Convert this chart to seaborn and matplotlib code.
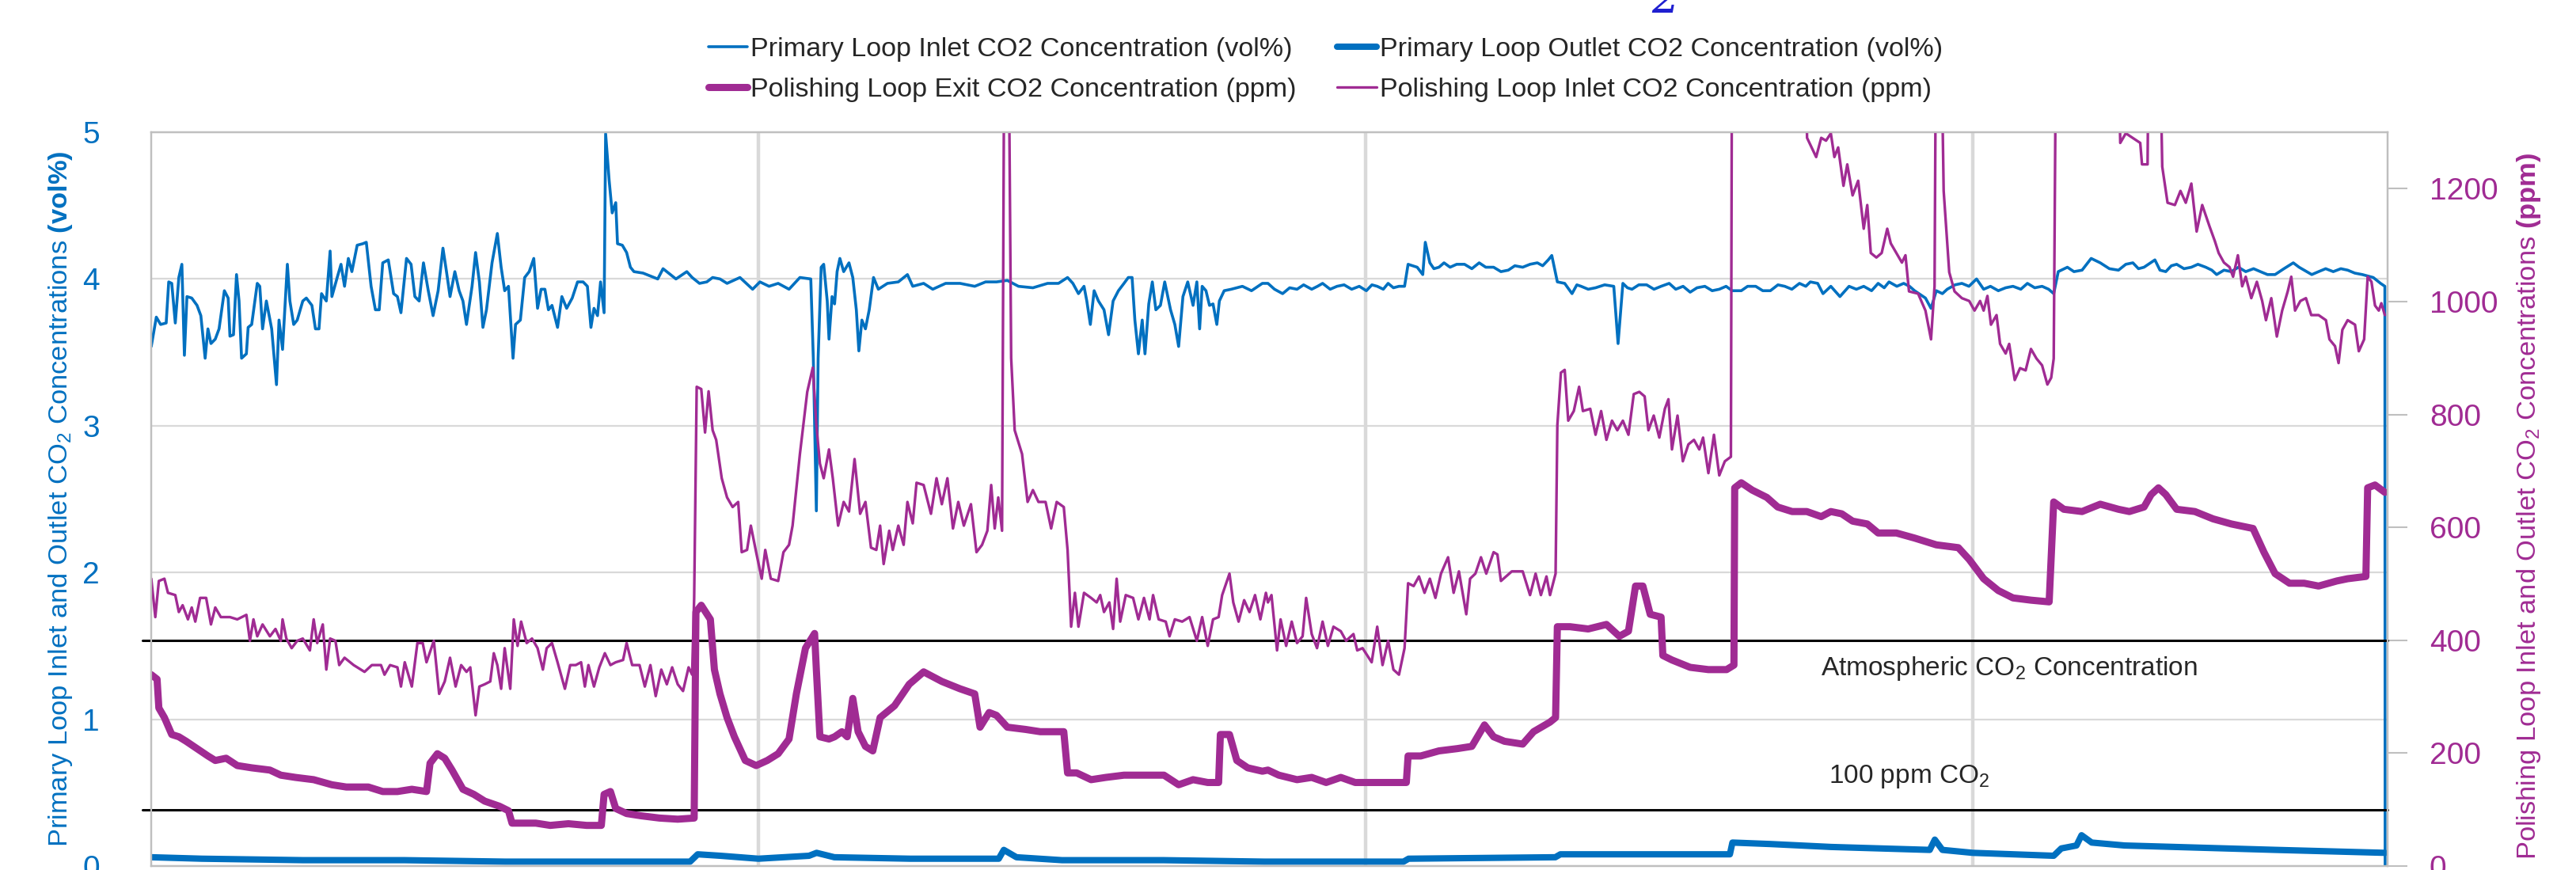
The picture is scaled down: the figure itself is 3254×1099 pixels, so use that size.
import matplotlib
matplotlib.use("Agg")
import matplotlib.pyplot as plt
import seaborn as sns

# ---- data (x = elapsed hours) ----
inlet_hours = [
    0.00, 0.20, 0.37, 0.59, 0.69, 0.81, 0.95, 1.09, 1.21, 1.31,
    1.41, 1.60, 1.81, 1.96, 2.13, 2.24, 2.36, 2.53, 2.68, 2.89,
    3.04, 3.11, 3.25, 3.37, 3.47, 3.57, 3.76, 3.83, 3.97, 4.19,
    4.29, 4.40, 4.55, 4.66, 4.76, 4.95, 5.05, 5.19, 5.38, 5.48,
    5.63, 5.77, 5.99, 6.13, 6.35, 6.49, 6.63, 6.73, 6.92, 7.07,
    7.14, 7.35, 7.50, 7.64, 7.79, 7.93, 8.14, 8.36, 8.50, 8.69,
    8.86, 9.01, 9.15, 9.37, 9.58, 9.73, 9.87, 10.09, 10.27, 10.42,
    10.59, 10.76, 10.95, 11.14, 11.34, 11.53, 11.67, 11.81, 12.00, 12.17,
    12.32, 12.46, 12.68, 12.82, 12.97, 13.11, 13.25, 13.47, 13.68, 13.83,
    13.97, 14.12, 14.30, 14.40, 14.59, 14.76, 14.94, 15.12, 15.27, 15.41,
    15.56, 15.70, 15.84, 16.06, 16.23, 16.42, 16.64, 16.85, 17.07, 17.24,
    17.38, 17.50, 17.64, 17.76, 17.90, 17.96, 18.10, 18.22, 18.36, 18.43,
    18.62, 18.79, 18.94, 19.08, 19.44, 19.73, 20.02, 20.23, 20.52, 20.74,
    21.17, 21.38, 21.67, 21.96,
    22.19, 22.48, 22.76, 23.27, 23.77, 24.06, 24.42, 24.78, 25.21,
    25.64, 26.07, 26.17, 26.29, 26.36, 26.48, 26.58, 26.72, 26.79, 26.91,
    27.01, 27.11, 27.22, 27.37, 27.58, 27.73, 27.87, 27.97, 28.09, 28.23,
    28.38, 28.55, 28.74, 29.10, 29.53, 29.89, 30.10, 30.53, 30.89, 31.40,
    31.97, 32.55, 32.98, 33.41, 33.84, 34.28, 34.85, 35.43, 35.86, 36.22,
    36.43, 36.65, 36.87, 36.98, 37.12, 37.27, 37.44, 37.66, 37.84, 38.02,
    38.23, 38.45, 38.62, 38.77, 38.88, 39.02, 39.17, 39.28, 39.43, 39.57,
    39.71, 39.89, 40.06, 40.29, 40.46, 40.61, 40.78, 40.97, 41.18, 41.33,
    41.44, 41.54, 41.69, 41.83, 41.97, 42.12, 42.22, 42.41, 42.69, 43.13,
    43.49, 43.92,
    44.14, 44.40, 44.72, 45.00, 45.29, 45.55, 45.87, 46.10, 46.30, 46.60,
    46.87, 47.15, 47.45, 47.75, 48.03, 48.25, 48.46, 48.70, 48.89, 49.10,
    49.32, 49.54, 49.68, 50.04, 50.26, 50.36, 50.54, 50.70, 50.90, 51.10,
    51.34, 51.60, 51.91, 52.20, 52.49, 52.75, 53.06, 53.35, 53.64, 53.90,
    54.21, 54.50, 54.79, 55.00, 55.22, 55.36, 55.58, 55.87, 56.16, 56.35,
    56.52, 56.80, 57.09, 57.45, 57.81, 57.98, 58.17, 58.35, 58.53, 58.80,
    59.11, 59.40, 59.68, 60.00, 60.26, 60.55, 60.83, 61.10, 61.41, 61.70,
    61.98, 62.25, 62.49, 62.85, 63.10, 63.42, 63.70, 64.00, 64.30, 64.57,
    64.85, 65.15, 65.40, 65.58, 65.87, 66.08,
    66.39, 66.75, 67.11, 67.40, 67.69, 68.00, 68.26, 68.50, 68.69, 69.00,
    69.27, 69.50, 69.70, 70.13, 70.35, 70.56, 70.80, 70.99, 71.30, 71.57,
    71.85, 72.15, 72.43, 72.70, 73.01, 73.30, 73.59, 73.90, 74.16, 74.45,
    74.74, 75.00, 75.20, 75.38, 75.74, 76.00, 76.32, 76.68, 77.04, 77.40,
    77.76, 78.05, 78.33, 78.55, 78.77, 79.20, 79.40, 79.63, 79.85, 80.06,
    80.35, 80.64, 80.90, 81.21, 81.45, 81.64, 81.93, 82.22, 82.50, 82.79,
    83.10, 83.37, 83.65, 83.95, 84.30, 84.67, 84.90, 85.10, 85.40, 85.67,
    85.95, 86.25, 86.55, 86.82, 87.10, 87.40, 87.83, 88.12, 88.29, 88.30,
]
inlet_vol = [
    3.54, 3.74, 3.69, 3.70, 3.98, 3.97, 3.70, 4.01, 4.10, 3.48,
    3.88, 3.87, 3.82, 3.75, 3.46, 3.66, 3.56, 3.59, 3.66, 3.92,
    3.87, 3.61, 3.62, 4.03, 3.85, 3.46, 3.49, 3.67, 3.69, 3.97,
    3.95, 3.66, 3.85, 3.75, 3.66, 3.28, 3.72, 3.52, 4.10, 3.85,
    3.69, 3.72, 3.85, 3.87, 3.82, 3.66, 3.66, 3.90, 3.85, 4.19,
    3.88, 4.01, 4.10, 3.95, 4.14, 4.05, 4.23, 4.24, 4.25, 3.95,
    3.79, 3.79, 4.11, 4.13, 3.90, 3.88, 3.77, 4.14, 4.10, 3.88,
    3.85, 4.11, 3.92, 3.75, 3.92, 4.21, 4.05, 3.88, 4.05, 3.92,
    3.85, 3.69, 3.95, 4.18, 3.98, 3.67, 3.79, 4.11, 4.31, 4.08,
    3.92, 3.95, 3.46, 3.69, 3.72, 4.01, 4.05, 4.14, 3.80, 3.93,
    3.93, 3.79, 3.82, 3.67, 3.88, 3.80, 3.87, 3.98, 3.98, 3.95,
    3.67, 3.80, 3.75, 3.98, 3.77, 4.99, 4.67, 4.45, 4.52, 4.24,
    4.23, 4.18, 4.08, 4.05, 4.04, 4.02, 4.00, 4.07, 4.03, 4.00,
    4.05, 4.01, 3.97, 3.98,
    4.01, 4.00, 3.97, 4.01, 3.93, 3.98, 3.95, 3.97, 3.93,
    4.01, 4.00, 3.46, 2.42, 3.46, 4.08, 4.10, 3.85, 3.59, 3.88,
    3.83, 4.05, 4.14, 4.05, 4.11, 4.01, 3.79, 3.51, 3.72, 3.66,
    3.79, 4.01, 3.93, 3.97, 3.98, 4.03, 3.95, 3.97, 3.93, 3.97,
    3.97, 3.95, 3.98, 3.98, 3.99, 3.95, 3.94, 3.97, 3.97, 4.01,
    3.97, 3.90, 3.95, 3.85, 3.69, 3.92, 3.85, 3.79, 3.62, 3.85,
    3.92, 3.97, 4.01, 4.01, 3.72, 3.49, 3.72, 3.49, 3.83, 3.98,
    3.79, 3.82, 3.98, 3.79, 3.69, 3.54, 3.88, 3.98, 3.82, 3.98,
    3.66, 3.95, 3.92, 3.82, 3.83, 3.69, 3.85, 3.92, 3.93, 3.95,
    3.92, 3.97,
    3.97, 3.93, 3.90, 3.94, 3.93, 3.96, 3.93, 3.95, 3.97, 3.93,
    3.95, 3.96, 3.93, 3.95, 3.92, 3.96, 3.95, 3.93, 3.97, 3.94,
    3.95, 3.95, 4.10, 4.08, 4.03, 4.25, 4.11, 4.07, 4.08, 4.11,
    4.08, 4.10, 4.10, 4.07, 4.11, 4.08, 4.08, 4.05, 4.06, 4.09,
    4.08, 4.10, 4.11, 4.09, 4.13, 4.16, 3.98, 3.97, 3.90, 3.96,
    3.95, 3.93, 3.94, 3.96, 3.95, 3.56, 3.97, 3.94, 3.93, 3.96,
    3.96, 3.93, 3.95, 3.97, 3.93, 3.95, 3.91, 3.94, 3.95, 3.92,
    3.93, 3.95, 3.92, 3.92, 3.95, 3.95, 3.92, 3.92, 3.96, 3.95,
    3.93, 3.97, 3.95, 3.98, 3.97, 3.90,
    3.95, 3.88, 3.95, 3.93, 3.95, 3.92, 3.97, 3.94, 3.98, 3.95,
    3.97, 3.95, 3.92, 3.87, 3.80, 3.92, 3.90, 3.93, 3.96, 3.97,
    3.95, 4.00, 3.93, 3.95, 3.92, 3.94, 3.95, 3.93, 3.97, 3.94,
    3.95, 3.93, 3.90, 4.05, 4.08, 4.05, 4.06, 4.14, 4.11, 4.07,
    4.06, 4.10, 4.11, 4.07, 4.08, 4.13, 4.06, 4.05, 4.09, 4.10,
    4.07, 4.08, 4.10, 4.08, 4.06, 4.03, 4.06, 4.05, 4.08, 4.05,
    4.07, 4.05, 4.03, 4.03, 4.07, 4.11, 4.08, 4.06, 4.03, 4.05,
    4.07, 4.05, 4.07, 4.06, 4.04, 4.03, 4.01, 3.97, 3.95, 0.00,
]

outlet_hours = [
    0.0, 2.0, 6.0, 10.0, 14.0, 18.0, 21.3, 21.6, 22.5, 24.0,
    26.0, 26.3, 27.0, 30.0, 33.5, 33.7, 34.2, 36.0, 40.0, 44.0,
    49.5, 49.7, 55.5, 55.7, 62.4, 62.5, 64.0, 66.4, 70.3, 70.5,
    70.8, 72.0, 75.2, 75.5, 76.1, 76.3, 76.7, 78.0, 80.0, 84.0,
    88.3,
]
outlet_vol = [
    0.06, 0.05, 0.04, 0.04, 0.03, 0.03, 0.03, 0.08, 0.07, 0.05,
    0.07, 0.09, 0.06, 0.05, 0.05, 0.11, 0.06, 0.04, 0.04, 0.03,
    0.03, 0.05, 0.06, 0.08, 0.08, 0.16, 0.15, 0.13, 0.11, 0.18,
    0.11, 0.09, 0.07, 0.12, 0.14, 0.21, 0.16, 0.14, 0.13, 0.11,
    0.09,
]

exit_hours = [
    0.00, 0.23, 0.30, 0.52, 0.81, 1.09, 1.38, 1.81, 2.24, 2.53,
    2.96, 3.40, 3.97, 4.69, 5.12, 5.70, 6.42, 7.14, 7.71, 8.58,
    9.15, 9.73, 10.30, 10.88, 11.02, 11.31, 11.60, 11.89, 12.32, 12.75,
    13.18, 13.76, 14.12, 14.26, 14.62, 15.20, 15.77, 16.49, 17.21, 17.79,
    17.90, 18.15, 18.36, 18.79, 19.37, 20.09, 20.81, 21.46, 21.53, 21.74,
    22.10,
    22.26, 22.48, 22.76, 23.05, 23.48, 23.91, 24.35, 24.78, 25.21, 25.50,
    25.86, 26.22, 26.29, 26.43, 26.79, 27.01, 27.30, 27.51, 27.73, 27.94,
    28.23, 28.52, 28.81, 29.38, 29.96, 30.53, 31.25, 31.97, 32.55, 32.76,
    33.12, 33.41, 33.84, 34.56, 35.14, 36.07, 36.22, 36.58, 37.15, 37.73,
    38.45, 39.02, 39.60, 40.03, 40.61, 41.18, 41.76, 42.19, 42.26, 42.62,
    42.91, 43.34, 43.92,
    44.14, 44.57, 45.29, 45.87, 46.44, 47.02, 47.59, 48.31, 49.03, 49.61,
    49.68, 50.18, 50.90, 51.62, 52.20, 52.70, 53.06, 53.49, 54.21, 54.64,
    55.29, 55.51, 55.58, 56.08, 56.80, 57.52, 58.03, 58.39, 58.67, 58.96,
    59.25, 59.68, 59.75, 60.11, 60.83, 61.55, 62.27, 62.56, 62.59, 62.85,
    63.28, 63.86, 64.29, 64.86, 65.44, 66.01,
    66.39, 66.82, 67.25, 67.83, 68.26, 68.98, 69.70, 70.56, 71.43, 71.86,
    72.43, 73.01, 73.59, 74.30, 75.02, 75.20, 75.60, 76.32, 77.04, 77.76,
    78.19, 78.77, 79.05, 79.34, 79.63, 80.06, 80.78, 81.50, 82.22, 83.08,
    83.51, 83.95, 84.52, 85.10, 85.67, 86.39, 86.82, 87.54, 87.61, 87.90,
    88.29,
]
exit_ppm = [
    339, 331, 280, 263, 233, 229, 221, 208, 195, 187,
    191, 178, 174, 170, 161, 157, 153, 144, 140, 140,
    132, 132, 136, 132, 182, 199, 191, 170, 136, 127,
    115, 106, 98, 76, 76, 76, 72, 75, 72, 72,
    127, 132, 102, 93, 89, 85, 83, 85, 450, 462,
    437,
    348, 305, 263, 229, 187, 178, 187, 199, 225, 305,
    386, 412, 348, 229, 225, 229, 238, 229, 297, 238,
    212, 204, 263, 284, 322, 344, 327, 314, 305, 246,
    272, 267, 246, 242, 238, 238, 165, 165, 153, 157,
    161, 161, 161, 161, 144, 153, 148, 148, 233, 233,
    187, 174, 168,
    170, 161, 153, 157, 148, 157, 148, 148, 148, 148,
    195, 195, 204, 208, 212, 250, 229, 221, 216, 238,
    255, 263, 424, 424, 420, 428, 407, 416, 496, 496,
    446, 441, 373, 365, 352, 348, 348, 356, 670, 679,
    666, 653, 636, 628, 628, 619,
    628, 624, 611, 606, 590, 590, 581, 569, 564, 543,
    509, 488, 475, 471, 468, 645, 632, 628, 641, 632,
    628, 636, 658, 670, 658, 632, 628, 615, 606, 598,
    556, 518, 501, 501, 496, 505, 509, 513, 670, 675,
    662,
]

# values above the top of the axis (off-scale) are entered as 1600
pol_inlet_hours = [
    0.00, 0.16, 0.30, 0.52, 0.66, 0.95, 1.09, 1.24, 1.45, 1.60,
    1.74, 1.93, 2.17, 2.36, 2.53, 2.75, 3.11, 3.40, 3.76, 3.90,
    4.04, 4.19, 4.40, 4.69, 4.91, 5.12, 5.19, 5.34, 5.55, 5.77,
    5.99, 6.27, 6.42, 6.56, 6.78, 6.92, 7.07, 7.28, 7.43, 7.64,
    8.00, 8.43, 8.72, 9.08, 9.22, 9.44, 9.73, 9.87, 10.02, 10.30,
    10.52, 10.73, 10.88, 11.17, 11.38, 11.60, 11.81, 12.03, 12.25, 12.46,
    12.61, 12.82, 12.97, 13.18, 13.40, 13.54, 13.68, 13.83, 13.97, 14.19,
    14.33, 14.48, 14.62, 14.84, 15.05, 15.27, 15.48, 15.63, 15.84, 16.06,
    16.35, 16.56, 16.78, 16.99, 17.14, 17.28, 17.50, 17.71, 17.93, 18.15,
    18.36, 18.65, 18.79, 19.01, 19.30, 19.51, 19.73, 19.94, 20.16, 20.38,
    20.59, 20.81, 21.02, 21.24, 21.38, 21.46, 21.56, 21.74, 21.89, 22.03,
    22.19, 22.33, 22.55, 22.76, 22.98, 23.20, 23.34, 23.55, 23.70, 23.91,
    24.13, 24.27, 24.49, 24.78, 24.99, 25.21, 25.35, 25.64, 25.93, 26.15,
    26.29, 26.43, 26.58, 26.79, 26.94, 27.15, 27.37, 27.58, 27.80, 28.02,
    28.23, 28.45, 28.66, 28.81, 28.95, 29.17, 29.31, 29.53, 29.74, 29.89,
    30.10, 30.25, 30.53, 30.82, 31.04, 31.25, 31.47, 31.69, 31.90, 32.12,
    32.40, 32.62, 32.84, 33.05, 33.20, 33.34, 33.48, 33.63, 33.73, 33.87,
    33.99, 34.13, 34.42, 34.64, 34.85, 35.07, 35.35, 35.57, 35.79, 36.07,
    36.22, 36.36, 36.51, 36.65, 36.87, 37.15, 37.37, 37.51, 37.66, 37.87,
    38.02, 38.16, 38.30, 38.52, 38.81, 39.02, 39.24, 39.46, 39.60, 39.82,
    40.10, 40.25, 40.46, 40.75, 41.04, 41.33, 41.54, 41.76, 41.97, 42.19,
    42.33, 42.62, 42.77, 42.98, 43.20, 43.41, 43.63, 43.84, 44.06,
    44.14, 44.28, 44.50, 44.64, 44.86, 45.08, 45.29, 45.51, 45.65, 45.87,
    46.08, 46.30, 46.51, 46.73, 47.02, 47.23, 47.52, 47.67, 47.88, 48.24,
    48.46, 48.67, 48.89, 49.10, 49.32, 49.54, 49.68, 49.90, 50.11, 50.33,
    50.54, 50.76, 50.98, 51.26, 51.48, 51.69, 51.98, 52.13, 52.34, 52.56,
    52.77, 53.06, 53.21, 53.35, 53.78, 54.21, 54.50, 54.72, 54.93, 55.15,
    55.29, 55.51, 55.58, 55.72, 55.87, 56.01, 56.23, 56.44, 56.59, 56.88,
    57.09, 57.31, 57.52, 57.74, 57.95, 58.17, 58.39, 58.60, 58.82, 59.03,
    59.18, 59.39, 59.61, 59.83, 59.97, 60.11, 60.33, 60.54, 60.76, 60.98,
    61.19, 61.34, 61.55, 61.77, 61.98, 62.20, 62.44, 62.49, 65.35, 65.45,
    65.81, 66.01, 66.20,
    66.39, 66.53, 66.68, 66.89, 67.04, 67.25, 67.47, 67.69, 67.83, 67.97,
    68.19, 68.40, 68.62, 68.76, 68.98, 69.20, 69.34, 69.48, 69.84, 70.13,
    70.35, 70.49, 70.56, 70.71, 70.85, 71.07, 71.28, 71.57, 71.86, 72.07,
    72.29, 72.43, 72.58, 72.72, 72.94, 73.08, 73.30, 73.44, 73.66, 73.87,
    74.09, 74.30, 74.52, 74.74, 74.95, 75.10, 75.20, 75.31, 77.69, 77.83,
    78.05, 78.62, 78.69, 78.91, 78.98, 79.34, 79.49, 79.70, 79.99, 80.21,
    80.42, 80.64, 80.85, 81.07, 81.36, 81.57, 81.72, 81.93, 82.15, 82.29,
    82.48, 82.65, 82.79, 83.01, 83.23, 83.44, 83.59, 83.80, 84.02, 84.23,
    84.45, 84.59, 84.74, 84.95, 85.17, 85.38, 85.67, 85.96, 86.10, 86.32,
    86.46, 86.61, 86.82, 87.11, 87.26, 87.47, 87.61, 87.76, 87.90, 88.05,
    88.15, 88.29,
]
pol_inlet_ppm = [
    509, 441, 505, 509, 484, 480, 450, 462, 437, 458,
    433, 475, 475, 428, 458, 441, 441, 437, 445, 399,
    437, 407, 428, 407, 420, 399, 437, 403, 386, 399,
    403, 382, 437, 395, 428, 348, 403, 399, 356, 369,
    356, 344, 356, 356, 339, 356, 352, 318, 361, 318,
    395, 395, 361, 399, 305, 327, 369, 318, 356, 344,
    352, 267, 318, 322, 327, 377, 356, 314, 386, 314,
    437, 390, 433, 395, 403, 386, 348, 386, 395, 361,
    314, 356, 356, 361, 318, 356, 318, 352, 377, 356,
    361, 365, 395, 356, 356, 318, 356, 301, 348, 322,
    352, 322, 310, 352, 339, 475, 849, 845, 768, 841,
    772, 755, 687, 653, 636, 645, 556, 560, 603, 556,
    509, 560, 509, 505, 556, 569, 603, 730, 840, 883,
    781, 713, 687, 738, 687, 603, 645, 628, 721, 624,
    645, 564, 560, 603, 535, 594, 560, 603, 569, 645,
    607, 679, 675, 624, 687, 641, 687, 598, 645, 603,
    641, 556, 569, 594, 675, 598, 653, 594, 1600, 1600,
    900, 772, 730, 645, 666, 645, 645, 598, 645, 636,
    560, 424, 484, 424, 484, 475, 467, 480, 450, 467,
    420, 509, 433, 480, 475, 437, 475, 437, 480, 437,
    433, 407, 437, 433, 441, 399, 441, 390, 437, 441,
    480, 518, 467, 433, 471, 450, 480, 437, 484,
    467, 480, 382, 437, 390, 433, 395, 407, 475, 411,
    386, 433, 390, 424, 416, 399, 411, 382, 386, 361,
    424, 356, 399, 348, 339, 386, 501, 496, 513, 484,
    509, 475, 518, 547, 484, 522, 446, 509, 518, 547,
    518, 556, 552, 505, 522, 522, 480, 518, 480, 513,
    480, 518, 781, 874, 879, 789, 806, 849, 806, 810,
    764, 806, 755, 789, 772, 789, 764, 836, 840, 832,
    772, 798, 759, 810, 827, 738, 798, 717, 747, 755,
    738, 759, 696, 764, 692, 717, 725, 1600, 1600, 1290,
    1256, 1290, 1285,
    1298, 1256, 1273, 1205, 1243, 1188, 1214, 1129, 1171, 1086,
    1078, 1086, 1129, 1103, 1086, 1069, 1082, 1018, 1014, 984,
    933, 1027, 1600, 1600, 1196, 1052, 1018, 1006, 1001, 984,
    1001, 984, 1010, 959, 976, 925, 908, 925, 861, 882,
    878, 916, 899, 887, 853, 865, 899, 1600, 1600, 1281,
    1298, 1281, 1243, 1243, 1600, 1600, 1239, 1175, 1171, 1196,
    1175, 1209, 1124, 1171, 1133, 1107, 1086, 1069, 1061, 1044,
    1082, 1027, 1044, 1006, 1035, 1001, 967, 1006, 938, 984,
    1018, 1044, 984, 1001, 1006, 976, 976, 967, 933, 921,
    891, 950, 967, 959, 912, 933, 1044, 1035, 993, 984,
    997, 976,
]

reference_ppm = [400, 100]
reference_labels = ["Atmospheric CO$_2$ Concentration", "100 ppm CO$_2$"]

series_labels = [
    "Primary Loop Inlet CO2 Concentration (vol%)",
    "Primary Loop Outlet CO2 Concentration (vol%)",
    "Polishing Loop Exit CO2 Concentration (ppm)",
    "Polishing Loop Inlet CO2 Concentration (ppm)",
]

BLUE = "#0070C0"
PURPLE = "#A02B93"
GRID = "#D9D9D9"
FRAME = "#BFBFBF"

sns.set_theme(style="white")
plt.rcParams["font.family"] = ["Liberation Sans", "DejaVu Sans"]
plt.rcParams["mathtext.fontset"] = "custom"
plt.rcParams["mathtext.rm"] = "Liberation Sans"
plt.rcParams["mathtext.it"] = "Liberation Sans:italic"
plt.rcParams["mathtext.bf"] = "Liberation Sans:bold"
plt.rcParams["mathtext.default"] = "regular"

fig = plt.figure(figsize=(32.55, 10.99), dpi=100)
ax = fig.add_axes([0.0587, 0.00455, 0.8679, 0.8435])
ax2 = ax.twinx()

# left axis: primary loop (vol%)
sns.lineplot(x=inlet_hours, y=inlet_vol, ax=ax, sort=False, estimator=None,
             color=BLUE, linewidth=2.6)
h_inlet = ax.lines[-1]
sns.lineplot(x=outlet_hours, y=outlet_vol, ax=ax, sort=False, estimator=None,
             color=BLUE, linewidth=5.8)
h_outlet = ax.lines[-1]

# right axis: polishing loop (ppm)
for val in reference_ppm:
    ax2.axhline(val, xmin=-0.004, xmax=1.0, color="black", lw=2.2,
                clip_on=False, zorder=1)
sns.lineplot(x=exit_hours, y=exit_ppm, ax=ax2, sort=False, estimator=None,
             color=PURPLE, linewidth=6.5)
h_exit = ax2.lines[-1]
sns.lineplot(x=pol_inlet_hours, y=pol_inlet_ppm, ax=ax2, sort=False, estimator=None,
             color=PURPLE, linewidth=2.4)
h_pol = ax2.lines[-1]

ax2.text(66.0, 350, reference_labels[0], fontsize=24, ha="left", va="center")
ax2.text(66.3, 158, reference_labels[1], fontsize=24, ha="left", va="center")

ax.set_xlim(0, 88.4)
ax.set_ylim(0, 5)
ax2.set_ylim(0, 1300)
ax.set_xticks([24, 48, 72])
ax.set_yticks(range(0, 6))
ax2.set_yticks(range(0, 1201, 200))

ax.set_axisbelow(True)
ax.yaxis.grid(True, color=GRID, lw=1.6)
ax.xaxis.grid(True, color=GRID, lw=3.2)
ax.tick_params(axis="x", labelbottom=False, length=0)
ax2.tick_params(axis="x", labelbottom=False, length=0)
ax.tick_params(axis="y", length=0, labelcolor=BLUE, labelsize=28, pad=47)
ax2.tick_params(axis="y", length=18, width=1.5, color=FRAME,
                labelcolor=PURPLE, labelsize=28, pad=20)
for a in (ax, ax2):
    for sp in a.spines.values():
        sp.set_color(FRAME)
        sp.set_linewidth(1.6)

ax.set_xlabel("")
ax.set_ylabel(r"Primary Loop Inlet and Outlet CO$_2$ Concentrations $\mathbf{(vol\%)}$",
              color=BLUE, fontsize=24.8, va="center")
ax.yaxis.set_label_coords(-0.0405, 0.5)
ax2.set_ylabel(r"Polishing Loop Inlet and Outlet CO$_2$ Concentrations $\mathbf{(ppm)}$",
               color=PURPLE, fontsize=24.8, rotation=90, va="center")
ax2.yaxis.set_label_coords(1.063, 0.49)

fig.legend([h_inlet, h_exit, h_outlet, h_pol],
           [series_labels[0], series_labels[2], series_labels[1], series_labels[3]],
           loc="upper left", bbox_to_anchor=(0.2707, 0.970), ncol=2, frameon=False,
           fontsize=24.6, handlelength=1.45, handletextpad=0.12, columnspacing=1.5,
           labelspacing=0.6, borderaxespad=0)

# stray glyph cut off at the top edge of the original image
fig.text(0.6409, 0.9864, "2", color="#1F1FD0", fontsize=40,
         family="DejaVu Serif", style="italic", ha="left", va="baseline")

fig.savefig("out.png", dpi=100)
